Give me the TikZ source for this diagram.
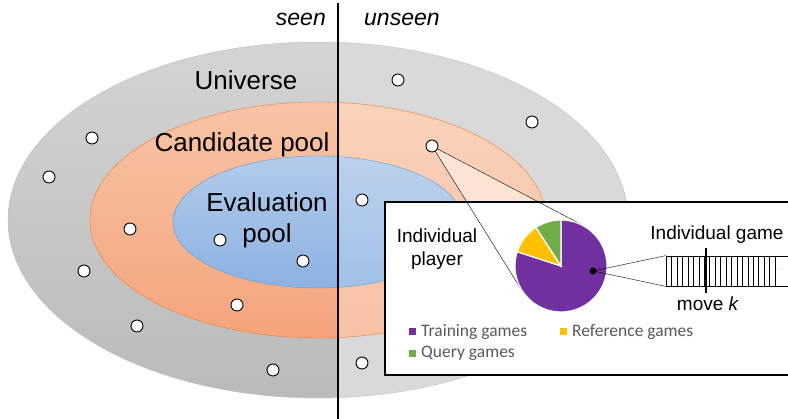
\documentclass[tikz,border=0pt]{standalone}
\usepackage{fontspec}
\setmainfont{Liberation Sans}
\newfontfamily\legendfont{Carlito}
\usepackage{tikz}
\usetikzlibrary{calc,positioning}
\definecolor{uvgreyA}{RGB}{212,212,212}
\definecolor{uvgreyB}{RGB}{186,186,186}
\definecolor{uvgreyR}{RGB}{217,217,217}
\definecolor{cporangeA}{RGB}{248,196,166}
\definecolor{cporangeB}{RGB}{244,164,124}
\definecolor{cporangeRA}{RGB}{250,210,186}
\definecolor{cporangeRB}{RGB}{248,194,166}
\definecolor{cpline}{RGB}{237,125,49}
\definecolor{epblueA}{RGB}{178,203,234}
\definecolor{epblueB}{RGB}{140,178,226}
\definecolor{epblueRA}{RGB}{188,210,237}
\definecolor{epblueRB}{RGB}{160,192,232}
\definecolor{epline}{RGB}{91,155,213}
\definecolor{zoompink}{RGB}{251,228,214}
\definecolor{trainpurple}{RGB}{112,48,160}
\definecolor{refyellow}{RGB}{255,192,0}
\definecolor{querygreen}{RGB}{112,173,71}
\definecolor{legendgrey}{RGB}{89,89,89}
\tikzstyle{player} = [circle, draw=black, fill=white, line width=0.9pt, minimum size=12pt, inner sep=0pt]
\tikzstyle{biglabel} = [font=\fontsize{26}{31}\selectfont, align=center, inner sep=0pt]
\tikzstyle{midlabel} = [font=\fontsize{19}{23}\selectfont, align=center, inner sep=0pt]
\tikzstyle{sidelabel} = [font=\fontsize{23}{28}\selectfont\itshape, inner sep=0pt]
\tikzstyle{legendtext} = [font=\legendfont\fontsize{17.5}{20}\selectfont, text=legendgrey, anchor=base west, inner sep=0pt]
\tikzstyle{legendkey} = [rectangle, minimum size=7pt, inner sep=0pt]
\tikzstyle{slice} = [draw=white, line width=1.2pt]

\begin{document}
\begin{tikzpicture}[x=1pt, y=1pt]
\useasboundingbox (0,0) rectangle (788,419);
% Pools, seen half
\begin{scope}
\clip (0,0) rectangle (338,419);
\shade[top color=uvgreyA, bottom color=uvgreyB] (318,199) ellipse [x radius=310pt, y radius=178pt];
\shade[top color=cporangeA, bottom color=cporangeB] (318,199) ellipse [x radius=228pt, y radius=118pt];
\shade[top color=epblueA, bottom color=epblueB] (318,197) ellipse [x radius=145pt, y radius=66pt];
\end{scope}
% Pools, unseen half
\begin{scope}
\clip (338,0) rectangle (788,419);
\fill[uvgreyR] (318,199) ellipse [x radius=310pt, y radius=178pt];
\shade[top color=cporangeRA, bottom color=cporangeRB] (318,199) ellipse [x radius=228pt, y radius=118pt];
\shade[top color=epblueRA, bottom color=epblueRB] (318,197) ellipse [x radius=145pt, y radius=66pt];
\end{scope}
\draw[black!25, thin] (318,199) ellipse [x radius=310pt, y radius=178pt];
\draw[cpline, thin] (318,199) ellipse [x radius=228pt, y radius=118pt];
\draw[epline, thin] (318,197) ellipse [x radius=145pt, y radius=66pt];

% Labels
\node (universe) [biglabel] at (246,339) {Universe};
\node (candidate) [biglabel] at (242,274) {Candidate pool};
\node (evaluation) [biglabel] at (267,199) {Evaluation\\pool};
\node (seen) [sidelabel, anchor=east] at (326,400) {seen};
\node (unseen) [sidelabel, anchor=west] at (364,400) {unseen};

% Zoom onto one player
\node (pie) [circle, minimum size=92pt, inner sep=0pt] at (561,153) {};
\coordinate (zc) at (432,273);
\coordinate (t1) at (tangent cs:node=pie, point={(zc)}, solution=1);
\coordinate (t2) at (tangent cs:node=pie, point={(zc)}, solution=2);
\fill[zoompink] (zc) -- (t1) -- (t2) -- cycle;
\draw[line width=1.8pt, fill=white] (385,44) rectangle (795,217);

% Players
\foreach \px/\py in {398/339, 532/297, 92/281, 49/242, 130/190, 362/219, 220/179, 303/158, 84/148, 237/114, 137/93, 273/49, 362/56}
  \node[player] at (\px,\py) {};
\node (zoomed) [player] at (zc) {};
\draw (zoomed) -- (t1);
\draw (zoomed) -- (t2);

% Pie of one player
\fill[trainpurple, slice] (pie.center) -- ++(162:46pt) arc [start angle=162, end angle=450, radius=46pt] -- cycle;
\fill[refyellow, slice] (pie.center) -- ++(123:46pt) arc [start angle=123, end angle=162, radius=46pt] -- cycle;
\fill[querygreen, slice] (pie.center) -- ++(90:46pt) arc [start angle=90, end angle=123, radius=46pt] -- cycle;
\node (playerlbl) [midlabel] at (437,170) {Individual\\player};

% One game
\node (gamept) [circle, fill=black, inner sep=0pt, minimum size=7pt] at (593,148) {};
\node (strip) [draw, thick, anchor=west, minimum width=130pt, minimum height=30pt, inner sep=0pt] at (666,148) {};
\foreach \i in {1,...,20}
  \draw (666+\i*5.45,133) -- (666+\i*5.45,163);
\node (more) [text=black!60, font=\tiny] at (781,150) {...};
\draw (gamept.center) -- (strip.north west);
\draw (gamept.center) -- (strip.south west);
\node (gamelbl) [midlabel] at (717,184) {Individual game};
\draw[line width=1.5pt] (706,126) -- (706,171);
\node (movek) [midlabel] at (708,115) {move \textit{k}};

% Legend
\node (trainkey) [legendkey, fill=trainpurple] at (412,87) {};
\node (refkey) [legendkey, fill=refyellow] at (563,87) {};
\node (querykey) [legendkey, fill=querygreen] at (412,65) {};
\node (trainlbl) [legendtext] at (421,82) {Training games};
\node (reflbl) [legendtext] at (572,82) {Reference games};
\node (querylbl) [legendtext] at (421,61) {Query games};

% Seen / unseen split
\draw[line width=1.5pt] (338,0) -- (338,416);
\end{tikzpicture}
\end{document}
